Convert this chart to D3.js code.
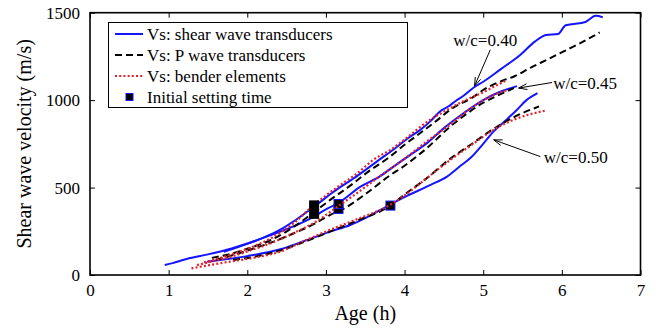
<!DOCTYPE html>
<html><head><meta charset="utf-8">
<script src="https://cdn.jsdelivr.net/npm/d3@7"></script>
<style>
body{margin:0;background:#fff}
svg{display:block}
text{font-family:"Liberation Serif","Times New Roman",serif;fill:#000}
</style>
</head><body>
<svg id="c" width="656" height="331"></svg>
<script>
// ---------- data ----------
const xTicks = [0, 1, 2, 3, 4, 5, 6, 7];
const yTicks = [0, 500, 1000, 1500];
const seriesNames = ["Vs: shear wave transducers", "Vs: P wave transducers", "Vs: bender elements"];
const markerName = "Initial setting time";
const mixLabels = ["w/c=0.40", "w/c=0.45", "w/c=0.50"];

// [age (h), Vs (m/s)]
const wc040_shear = [[0.95,57],[1.05,68],[1.23,92],[1.5,118],[1.8,152],[2.0,180],[2.2,212],[2.46,270],[2.6,310],[2.76,362],[2.9,408],[3.05,460],[3.2,508],[3.35,552],[3.5,600],[3.65,650],[3.86,718],[4.03,778],[4.2,830],[4.33,880],[4.45,935],[4.55,962],[4.65,995],[4.75,1025],[4.88,1072],[5.0,1105],[5.22,1176],[5.47,1258],[5.66,1336],[5.8,1372],[5.95,1378],[6.05,1428],[6.3,1447],[6.43,1482],[6.52,1474]];
const wc040_pwave = [[1.55,98],[1.8,122],[2.0,150],[2.3,200],[2.6,278],[2.85,360],[3.05,428],[3.3,508],[3.56,598],[3.8,672],[4.0,745],[4.2,812],[4.4,880],[4.58,945],[4.88,1020],[5.0,1058],[5.26,1114],[5.39,1135],[5.6,1185],[5.81,1231],[6.05,1285],[6.24,1327],[6.48,1387]];
const wc040_bender = [[1.45,72],[1.6,90],[1.8,118],[2.0,150],[2.3,210],[2.6,300],[2.85,402],[3.0,455],[3.2,520],[3.4,582],[3.6,658],[3.82,716],[4.0,775],[4.3,880],[4.58,954],[4.8,1005],[5.0,1045],[5.15,1080],[5.28,1110]];

const wc045_shear = [[1.7,132],[2.0,178],[2.2,212],[2.5,262],[2.8,322],[3.0,375],[3.16,412],[3.44,505],[3.69,565],[3.86,620],[4.05,680],[4.3,760],[4.5,840],[4.75,925],[5.0,1000],[5.2,1045],[5.43,1080]];
const wc045_pwave = [[1.6,88],[1.82,114],[2.0,140],[2.3,185],[2.6,240],[2.85,292],[3.05,343],[3.21,375],[3.5,462],[3.8,565],[4.0,625],[4.3,732],[4.58,849],[4.8,925],[5.0,985],[5.2,1030],[5.39,1069]];
const wc045_bender = [[1.36,57],[1.5,72],[1.8,105],[2.0,135],[2.3,182],[2.6,242],[2.9,312],[3.16,395],[3.4,470],[3.7,570],[4.0,665],[4.3,770],[4.58,860],[4.8,940],[5.09,1021],[5.32,1059]];

const wc050_shear = [[1.49,76],[1.7,88],[2.0,108],[2.42,147],[2.7,190],[3.05,248],[3.31,286],[3.5,325],[3.77,391],[4.03,452],[4.33,515],[4.54,563],[4.7,620],[4.84,670],[5.0,750],[5.13,820],[5.3,890],[5.43,945],[5.55,1000],[5.69,1040]];
const wc050_pwave = [[1.82,86],[2.1,105],[2.42,140],[2.7,185],[3.05,248],[3.4,312],[3.82,397],[4.0,460],[4.3,560],[4.58,665],[4.84,745],[5.13,835],[5.4,905],[5.71,964]];
const wc050_bender = [[1.29,38],[1.5,55],[1.8,78],[2.1,100],[2.42,134],[2.7,190],[3.05,258],[3.4,320],[3.82,402],[4.0,455],[4.3,560],[4.58,658],[4.84,740],[5.13,830],[5.4,890],[5.79,940]];

// initial setting time markers: [age, Vs, mix index]
const settingMarkers = [[2.85,350,0],[2.85,398,0],[3.16,378,1],[3.16,406,1],[3.82,397,2]];

// annotation: label position [age, Vs], arrow start [age, Vs], arrow tip [age, Vs]
const annLabelPos = [[4.62,1308],[5.89,1063],[5.77,640]];
const annArrowFrom = [[5.09,1288],[5.876,1101],[5.727,677]];
const annArrowTo = [[4.89,1081],[5.45,1069],[5.133,773]];

// ---------- chart ----------
const svg = d3.select("#c");
const x = d3.scaleLinear().domain([0, 7]).range([90, 640.5]);
const y = d3.scaleLinear().domain([0, 1500]).range([275, 12.7]);

const styles = [
  {stroke:"#1414ff", width:2, dash:null},
  {stroke:"#000000", width:2, dash:"7,4"},
  {stroke:"#e8202a", width:2.2, dash:"2,2.2"}
];
const groups = [
  [wc040_shear, wc040_pwave, wc040_bender],
  [wc045_shear, wc045_pwave, wc045_bender],
  [wc050_shear, wc050_pwave, wc050_bender]
];

const line = d3.line().x(d => x(d[0])).y(d => y(d[1])).curve(d3.curveMonotoneX);

// axes (inward ticks)
const tickLen = 5;
const gx = svg.append("g").attr("transform", `translate(0,${y(0)})`)
  .call(d3.axisBottom(x).tickValues(xTicks).tickSizeInner(-tickLen).tickSizeOuter(0).tickPadding(9).tickFormat(d3.format("d")));
const gxt = svg.append("g").attr("transform", `translate(0,${y(1500)})`)
  .call(d3.axisTop(x).tickValues(xTicks).tickSizeInner(-tickLen).tickSizeOuter(0).tickFormat(""));
const gy = svg.append("g").attr("transform", `translate(${x(0)},0)`)
  .call(d3.axisLeft(y).tickValues(yTicks).tickSizeInner(-tickLen).tickSizeOuter(0).tickPadding(10).tickFormat(d3.format("d")));
const gyr = svg.append("g").attr("transform", `translate(${x(7)},0)`)
  .call(d3.axisRight(y).tickValues(yTicks).tickSizeInner(-tickLen).tickSizeOuter(0).tickFormat(""));
[gx, gxt, gy, gyr].forEach(g => {
  g.select(".domain").remove();
  g.selectAll(".tick line").attr("stroke", "#000").attr("stroke-width", 1);
  g.selectAll(".tick text").style("font-size", "17px").style("font-family", '"Liberation Serif",serif').attr("fill", "#000");
});
// box
svg.append("rect").attr("x", x(0)).attr("y", y(1500)).attr("width", x(7) - x(0)).attr("height", y(0) - y(1500))
  .attr("fill", "none").attr("stroke", "#000").attr("stroke-width", 1.6);

function drawMarkers(list) {
  svg.selectAll(null).data(list).enter().append("rect")
    .attr("x", d => x(d[0]) - 4.5).attr("y", d => y(d[1]) - 4.5).attr("width", 9).attr("height", 9)
    .attr("fill", "#000").attr("stroke", d => d[2] === 0 ? "#000" : "#1414ff").attr("stroke-width", 1);
}

// series lines
[0, 1, 2].forEach(si => {
  groups.forEach(g => {
    const st = styles[si];
    svg.append("path").datum(g[si]).attr("d", line)
      .attr("fill", "none").attr("stroke", st.stroke).attr("stroke-width", st.width)
      .attr("stroke-dasharray", st.dash).attr("stroke-linejoin", "round");
  });
  if (si === 1) drawMarkers(settingMarkers.filter(d => d[2] !== 0));
});
drawMarkers(settingMarkers.filter(d => d[2] === 0));

// annotations
function arrow(from, to) {
  const x1 = x(from[0]), y1 = y(from[1]), x2 = x(to[0]), y2 = y(to[1]);
  svg.append("line").attr("x1", x1).attr("y1", y1).attr("x2", x2).attr("y2", y2).attr("stroke", "#000").attr("stroke-width", 1);
  const ang = Math.atan2(y1 - y2, x1 - x2);
  const L = 9, a = 0.33;
  [ang - a, ang + a].forEach(t => {
    svg.append("line").attr("x1", x2).attr("y1", y2).attr("x2", x2 + L * Math.cos(t)).attr("y2", y2 + L * Math.sin(t))
      .attr("stroke", "#000").attr("stroke-width", 1);
  });
}
mixLabels.forEach((lab, i) => {
  arrow(annArrowFrom[i], annArrowTo[i]);
  svg.append("text").attr("x", x(annLabelPos[i][0])).attr("y", y(annLabelPos[i][1])).style("font-size", "17px").text(lab);
});

// legend
const lg = svg.append("g");
lg.append("rect").attr("x", 108.5).attr("y", 22.5).attr("width", 299).attr("height", 85)
  .attr("fill", "#fff").attr("stroke", "#000").attr("stroke-width", 1);
const rowY = [34, 55, 76, 97];
seriesNames.forEach((name, i) => {
  const st = styles[i];
  lg.append("line").attr("x1", 115).attr("x2", 143).attr("y1", rowY[i]).attr("y2", rowY[i])
    .attr("stroke", st.stroke).attr("stroke-width", st.width).attr("stroke-dasharray", st.dash);
  lg.append("text").attr("x", 147).attr("y", rowY[i] + 5.5).style("font-size", "17px").text(name);
});
lg.append("rect").attr("x", 126).attr("y", rowY[3] - 3.5).attr("width", 7).attr("height", 7)
  .attr("fill", "#000").attr("stroke", "#1414ff").attr("stroke-width", 1);
lg.append("text").attr("x", 147).attr("y", rowY[3] + 5.5).style("font-size", "17px").text(markerName);

// axis titles
svg.append("text").attr("x", (x(0) + x(7)) / 2).attr("y", 320).attr("text-anchor", "middle").style("font-size", "20px").text("Age (h)");
svg.append("text").attr("transform", `translate(31,${(y(0) + y(1500)) / 2}) rotate(-90)`).attr("text-anchor", "middle").style("font-size", "20px").text("Shear wave velocity (m/s)");
</script>
</body></html>
